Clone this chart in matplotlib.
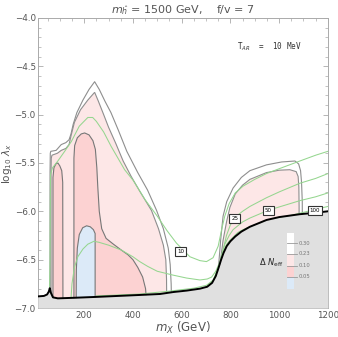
import numpy as np
import matplotlib.pyplot as plt
from matplotlib.ticker import MultipleLocator

# boundary of the excluded (gray) region
bound_x = [10, 35, 48, 55, 59, 63, 72, 92, 150, 250, 428, 511, 565, 620, 675, 705, 725, 740, 752, 762,
           772, 785, 800, 820, 845, 880, 948, 1000, 1085, 1150, 1200]
bound_y = [-6.88, -6.875, -6.86, -6.83, -6.795, -6.84, -6.89, -6.90, -6.895, -6.885, -6.865, -6.855, -6.835,
           -6.82, -6.80, -6.78, -6.74, -6.67, -6.58, -6.50, -6.43, -6.36, -6.31, -6.26, -6.21, -6.16, -6.09,
           -6.06, -6.03, -6.015, -6.00]

# Delta N_eff = 0.30 contours
c30_left_x = [60, 60, 61, 63, 85, 106, 125, 138, 146, 155, 170, 195, 220, 243, 262, 285, 310, 340, 375, 420,
              460, 497, 525, 545, 553, 557, 559]
c30_left_y = [-7.0, -5.6, -5.40, -5.38, -5.37, -5.31, -5.29, -5.26, -5.20, -5.10, -4.98, -4.85, -4.74, -4.66,
              -4.74, -4.86, -4.98, -5.16, -5.38, -5.60, -5.78, -5.99, -6.18, -6.38, -6.55, -6.75, -7.0]
c30_right_x = [748, 752, 760, 770, 785, 811, 845, 880, 948, 1010, 1065, 1080, 1088, 1092, 1095, 1096]
c30_right_y = [-7.0, -6.55, -6.30, -6.05, -5.90, -5.76, -5.65, -5.58, -5.52, -5.49, -5.48, -5.51, -5.58,
               -5.70, -5.90, -7.0]

# Delta N_eff = 0.23 contours
c23_left_x = [64, 64, 65, 68, 90, 106, 125, 138, 146, 160, 185, 215, 243, 258, 280, 300, 330, 360, 393, 430,
              476, 505, 525, 535, 538, 539]
c23_left_y = [-7.0, -5.6, -5.45, -5.42, -5.40, -5.37, -5.35, -5.31, -5.22, -5.08, -4.95, -4.85, -4.77, -4.86,
              -5.00, -5.13, -5.30, -5.48, -5.64, -5.80, -5.99, -6.18, -6.35, -6.50, -6.70, -7.0]
c23_right_x = [756, 760, 770, 785, 798, 820, 850, 880, 948, 1000, 1044, 1070, 1078, 1081, 1082, 1083]
c23_right_y = [-7.0, -6.50, -6.30, -6.10, -5.96, -5.82, -5.73, -5.67, -5.60, -5.575, -5.57, -5.59, -5.64,
               -5.75, -5.95, -7.0]

# Delta N_eff = 0.10 contours
c10_a_x = [72, 72, 76, 84, 92, 100, 108, 112, 113]
c10_a_y = [-7.0, -5.65, -5.55, -5.51, -5.50, -5.53, -5.58, -5.70, -7.0]
c10_b_x = [158, 158, 161, 172, 188, 202, 220, 236, 246, 252, 256, 262, 272, 290, 320, 352, 380, 400, 420,
           440, 452, 458]
c10_b_y = [-7.0, -5.45, -5.32, -5.24, -5.20, -5.19, -5.21, -5.27, -5.36, -5.55, -5.75, -6.0, -6.18, -6.28,
           -6.34, -6.40, -6.45, -6.50, -6.58, -6.68, -6.80, -7.0]

# Delta N_eff = 0.05 contour
c05_x = [167, 168, 172, 180, 194, 210, 225, 238, 245, 245]
c05_y = [-7.0, -6.6, -6.38, -6.24, -6.17, -6.15, -6.16, -6.19, -6.23, -7.0]

# green lines
g10_x = [58, 60, 61, 62, 70, 92, 120, 147, 180, 215, 235, 250, 280, 311, 366, 401, 450, 500, 540, 579, 634,
         675, 702, 729, 750, 764, 777, 795, 820, 852, 900, 948, 1000, 1085, 1150, 1200]
g10_y = [-6.80, -6.5, -5.9, -5.62, -5.55, -5.48, -5.38, -5.28, -5.12, -5.03, -5.03, -5.07, -5.18, -5.33,
         -5.57, -5.68, -5.88, -6.05, -6.20, -6.33, -6.47, -6.51, -6.52, -6.48, -6.36, -6.19, -6.05, -5.92,
         -5.81, -5.74, -5.67, -5.61, -5.56, -5.48, -5.42, -5.38]
g25_x = [146, 150, 160, 174, 195, 215, 240, 260, 300, 352, 400, 428, 461, 500, 565, 620, 675, 705, 723, 740,
         757, 770, 784, 800, 825, 850, 880, 948, 1000, 1085, 1150, 1200]
g25_y = [-6.9, -6.75, -6.58, -6.47, -6.39, -6.34, -6.31, -6.32, -6.35, -6.40, -6.47, -6.52, -6.57, -6.62,
         -6.66, -6.69, -6.71, -6.70, -6.68, -6.62, -6.52, -6.40, -6.25, -6.14, -6.05, -6.00, -5.95, -5.86,
         -5.80, -5.71, -5.66, -5.61]
g50_x = [250, 430, 552, 650, 702, 730, 750, 765, 777, 795, 811, 850, 880, 955, 1020, 1085, 1150, 1200]
g50_y = [-6.875, -6.855, -6.825, -6.795, -6.765, -6.71, -6.60, -6.45, -6.34, -6.25, -6.19, -6.11, -6.07,
         -5.99, -5.94, -5.89, -5.85, -5.81]
g100_x = [700, 730, 752, 770, 785, 798, 830, 852, 900, 948, 1020, 1085, 1150, 1200]
g100_y = [-6.79, -6.71, -6.57, -6.43, -6.34, -6.30, -6.22, -6.19, -6.14, -6.11, -6.06, -6.02, -5.98, -5.95]

line_labels = ["10", "25", "50", "100"]
label_x = [596, 818, 955, 1147]
label_y = [-6.42, -6.07, -5.99, -5.99]

legend_levels = ["0.30", "0.23", "0.10", "0.05"]
legend_colors = ["#ffffff", "#ffffff", "#fde7e7", "#fcd2d2", "#dceaf8"]

pink_light = "#fde7e7"
pink = "#fcd2d2"
blue = "#dceaf8"
line_gray = "#8e8e8e"
green = "#95d68f"

fig = plt.figure(figsize=(3.38, 3.37), dpi=100)
ax = fig.add_axes([0.112, 0.086, 0.858, 0.861])

ax.plot(c30_left_x, c30_left_y, color=line_gray, lw=0.8, zorder=1)
ax.plot(c30_right_x, c30_right_y, color=line_gray, lw=0.8, zorder=1)
ax.fill(c23_left_x, c23_left_y, facecolor=pink_light, edgecolor=line_gray, lw=0.8, zorder=2)
ax.fill(c23_right_x, c23_right_y, facecolor=pink_light, edgecolor=line_gray, lw=0.8, zorder=2)
ax.fill(c10_a_x, c10_a_y, facecolor=pink, edgecolor="#777777", lw=0.8, zorder=3)
ax.fill(c10_b_x, c10_b_y, facecolor=pink, edgecolor="#777777", lw=0.8, zorder=3)
ax.fill(c05_x, c05_y, facecolor=blue, edgecolor="#777777", lw=0.8, zorder=4)

for gx, gy in [(g10_x, g10_y), (g25_x, g25_y), (g50_x, g50_y), (g100_x, g100_y)]:
    ax.plot(gx, gy, color=green, lw=0.75, zorder=5)

ax.fill_between(bound_x, bound_y, -7.0, color="#e0e0e0", zorder=6, lw=0)
ax.plot(bound_x, bound_y, color="black", lw=1.4, zorder=7)

for lab, lx, ly in zip(line_labels, label_x, label_y):
    ax.text(lx, ly, lab, fontsize=4, ha="center", va="center", zorder=9,
            bbox=dict(boxstyle="square,pad=0.35", fc="white", ec="#333333", lw=0.8))

ax.text(826, -4.30, r"T$_{AR}$  =  10 MeV", family="DejaVu Sans Mono", fontsize=5.5,
        color="#333333", va="center", zorder=9)

# legend bar
bar_x0, bar_x1 = 1034, 1062
bar_edges = [-6.22, -6.33, -6.44, -6.565, -6.675, -6.805]
for i in range(5):
    ax.fill_between([bar_x0, bar_x1], bar_edges[i + 1], bar_edges[i], color=legend_colors[i],
                    lw=0, zorder=8)
for i, lev in enumerate(legend_levels):
    ax.plot([bar_x0, bar_x1 + 10], [bar_edges[i + 1]] * 2, color="#999999", lw=0.6, zorder=8)
    ax.text(bar_x1 + 16, bar_edges[i + 1], lev, fontsize=3.8, color="#777777", va="center", zorder=9)
ax.text(917, -6.53, r"$\Delta\ N_{\rm eff}$", fontsize=6, color="#222222", va="center", zorder=9)

ax.set_xlim(10, 1200)
ax.set_ylim(-7.0, -4.0)
ax.xaxis.set_major_locator(MultipleLocator(200))
ax.xaxis.set_minor_locator(MultipleLocator(50))
ax.yaxis.set_major_locator(MultipleLocator(0.5))
ax.yaxis.set_minor_locator(MultipleLocator(0.1))
ax.yaxis.set_major_formatter(plt.FuncFormatter(lambda v, p: f"{v:.1f}".replace("-", "\u2212")))
ax.tick_params(which="both", direction="in", top=True, right=True, colors="#aaaaaa",
               labelcolor="#555555", labelsize=6.3)
ax.tick_params(which="major", length=3.5, width=0.6)
ax.tick_params(which="minor", length=2, width=0.5)
ax.tick_params(axis="x", pad=2)
ax.tick_params(axis="y", pad=1.5)
for s in ax.spines.values():
    s.set_color("#aaaaaa")
    s.set_linewidth(0.7)

ax.set_xlabel(r"$m_X$ (GeV)", fontsize=8.5, color="#555555")
ax.set_ylabel(r"$\log_{10}\,\lambda_x$", fontsize=7.5, color="#555555")
ax.xaxis.set_label_coords(0.5, -0.042)
ax.yaxis.set_label_coords(-0.082, 0.5)
ax.set_title(r"$m_{\hat{h}}$ = 1500 GeV,    f/v = 7", fontsize=8, color="#555555", pad=3)

fig.savefig("out.png", dpi=100)
